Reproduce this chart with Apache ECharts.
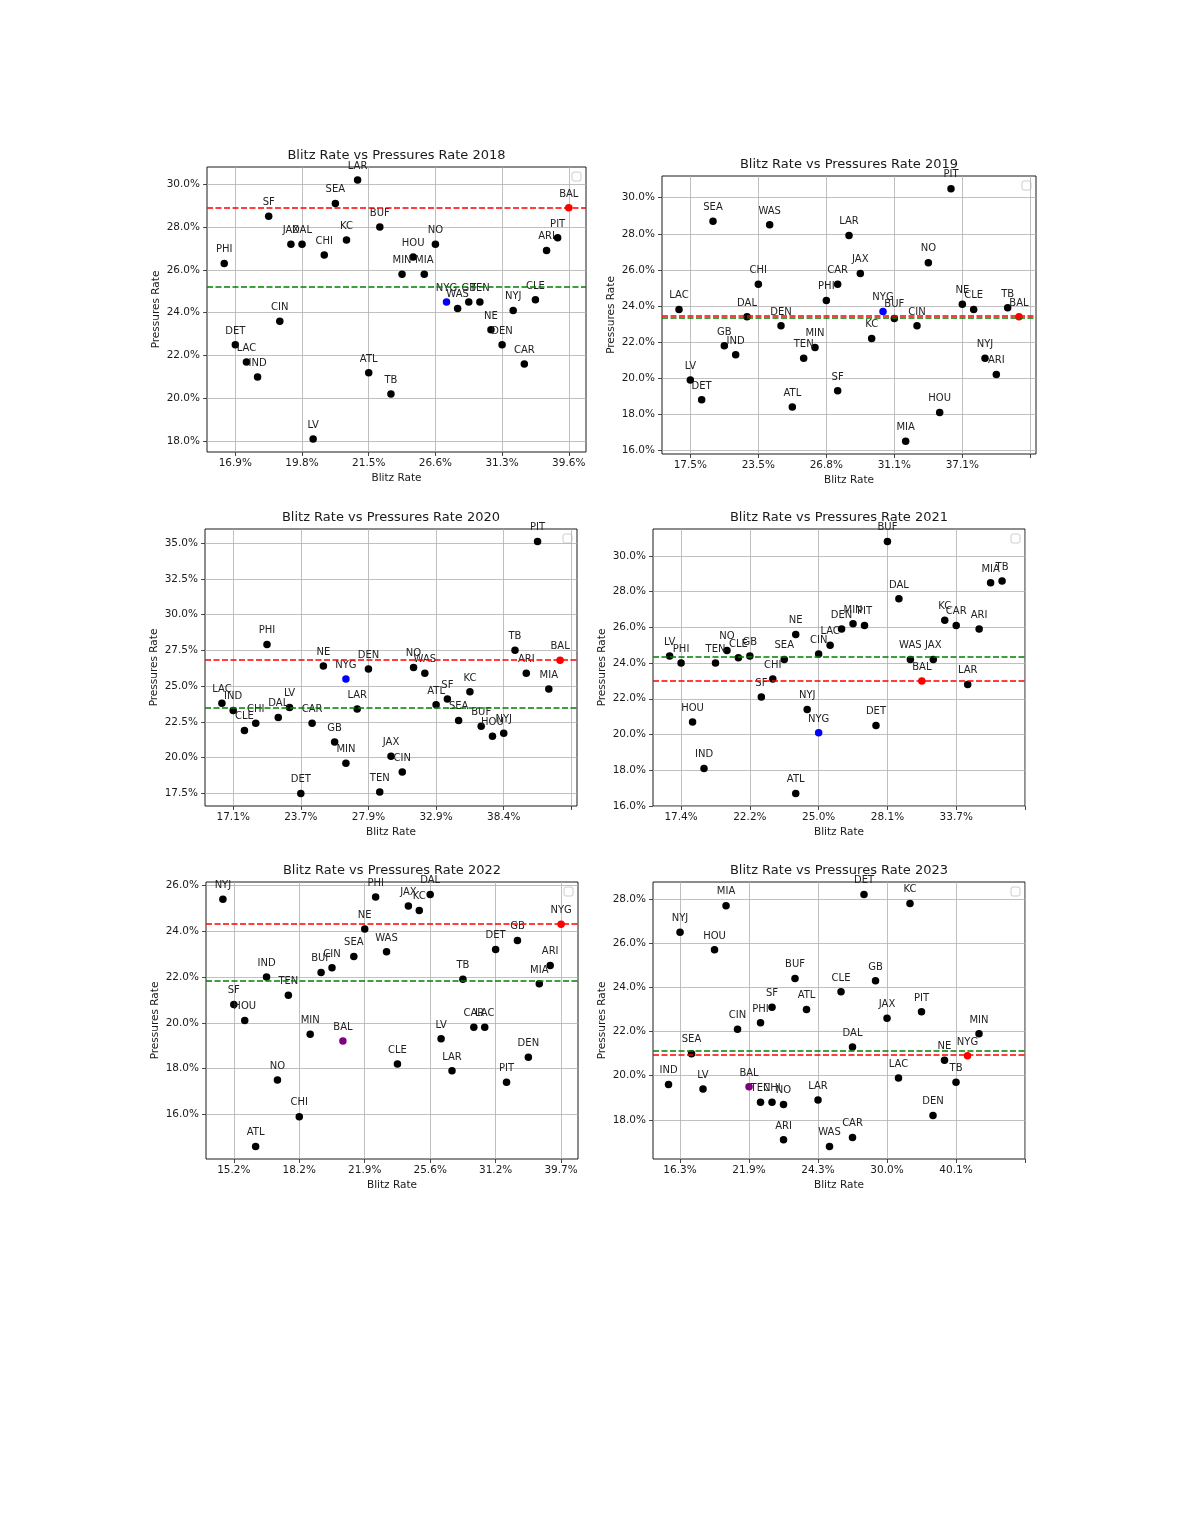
<!DOCTYPE html>
<html><head><meta charset="utf-8">
<script src="https://cdn.jsdelivr.net/npm/echarts@6/dist/echarts.min.js"></script>
<style>html,body{margin:0;padding:0;background:#fff}#chart{width:1190px;height:1540px}</style>
</head><body><div id="chart"></div>
<script>
const years = [2018, 2019, 2020, 2021, 2022, 2023];

// x position = rank of team's blitz rate (teams sharing a rate share a position)
const teams2018 = ['PHI','DET','LAC','IND','SF','CIN','JAX','DAL','LV','CHI','SEA','KC','LAR','ATL','BUF','TB','MIN','HOU','MIA','NO','NYG','WAS','GB','TEN','NE','DEN','NYJ','CAR','CLE','ARI','PIT','BAL'];
const blitzRank2018 = [0,1,2,3,4,5,6,7,8,9,10,11,12,13,14,15,16,17,18,19,20,21,22,23,24,25,26,27,28,29,30,31];
const pressure2018 = [26.3,22.5,21.7,21.0,28.5,23.6,27.2,27.2,18.1,26.7,29.1,27.4,30.2,21.2,28.0,20.2,25.8,26.6,25.8,27.2,24.5,24.2,24.5,24.5,23.2,22.5,24.1,21.6,24.6,26.9,27.5,28.9];
const xTickLabels2018 = ['16.9%','19.8%','21.5%','26.6%','31.3%','39.6%'];
const yTicks2018 = [18,20,22,24,26,28,30];

const teams2019 = ['LAC','LV','DET','SEA','GB','IND','DAL','CHI','WAS','DEN','ATL','TEN','MIN','PHI','CAR','SF','LAR','JAX','KC','NYG','BUF','MIA','CIN','NO','HOU','PIT','NE','CLE','NYJ','ARI','TB','BAL'];
const blitzRank2019 = [0,1,2,3,4,5,6,7,8,9,10,11,12,13,14,14,15,16,17,18,19,20,21,22,23,24,25,26,27,28,29,30];
const pressure2019 = [23.8,19.9,18.8,28.7,21.8,21.3,23.4,25.2,28.5,22.9,18.4,21.1,21.7,24.3,25.2,19.3,27.9,25.8,22.2,23.7,23.3,16.5,22.9,26.4,18.1,30.5,24.1,23.8,21.1,20.2,23.9,23.4];
const xTickLabels2019 = ['17.5%','23.5%','26.8%','31.1%','37.1%',''];
const yTicks2019 = [16,18,20,22,24,26,28,30];

const teams2020 = ['LAC','IND','CLE','CHI','PHI','DAL','LV','DET','CAR','NE','GB','NYG','MIN','LAR','DEN','TEN','JAX','CIN','NO','WAS','ATL','SF','SEA','KC','BUF','HOU','NYJ','TB','ARI','PIT','MIA','BAL'];
const blitzRank2020 = [0,1,2,3,4,5,6,7,8,9,10,11,11,12,13,14,15,16,17,18,19,20,21,22,23,24,25,26,27,28,29,30];
const pressure2020 = [23.8,23.3,21.9,22.4,27.9,22.8,23.5,17.5,22.4,26.4,21.1,25.5,19.6,23.4,26.2,17.6,20.1,19.0,26.3,25.9,23.7,24.1,22.6,24.6,22.2,21.5,21.7,27.5,25.9,35.1,24.8,26.8];
const xTickLabels2020 = ['17.1%','23.7%','27.9%','32.9%','38.4%',''];
const yTicks2020 = [17.5,20,22.5,25,27.5,30,32.5,35];

const teams2021 = ['LV','PHI','HOU','IND','TEN','NO','CLE','GB','SF','CHI','SEA','NE','ATL','NYJ','CIN','NYG','LAC','DEN','MIN','PIT','DET','BUF','DAL','WAS','BAL','JAX','KC','CAR','LAR','ARI','MIA','TB'];
const blitzRank2021 = [0,1,2,3,4,5,6,7,8,9,10,11,11,12,13,13,14,15,16,17,18,19,20,21,22,23,24,25,26,27,28,29];
const pressure2021 = [24.4,24.0,20.7,18.1,24.0,24.7,24.3,24.4,22.1,23.1,24.2,25.6,16.7,21.4,24.5,20.1,25.0,25.9,26.2,26.1,20.5,30.8,27.6,24.2,23.0,24.2,26.4,26.1,22.8,25.9,28.5,28.6];
const xTickLabels2021 = ['17.4%','22.2%','25.0%','28.1%','33.7%',''];
const yTicks2021 = [16,18,20,22,24,26,28,30];

const teams2022 = ['NYJ','SF','HOU','ATL','IND','NO','TEN','CHI','MIN','BUF','CIN','BAL','SEA','NE','PHI','WAS','CLE','JAX','KC','DAL','LV','LAR','TB','CAR','LAC','DET','PIT','GB','DEN','MIA','ARI','NYG'];
const blitzRank2022 = [0,1,2,3,4,5,6,7,8,9,10,11,12,13,14,15,16,17,18,19,20,21,22,23,24,25,26,27,28,29,30,31];
const pressure2022 = [25.4,20.8,20.1,14.6,22.0,17.5,21.2,15.9,19.5,22.2,22.4,19.2,22.9,24.1,25.5,23.1,18.2,25.1,24.9,25.6,19.3,17.9,21.9,19.8,19.8,23.2,17.4,23.6,18.5,21.7,22.5,24.3];
const xTickLabels2022 = ['15.2%','18.2%','21.9%','25.6%','31.2%','39.7%'];
const yTicks2022 = [16,18,20,22,24,26];

const teams2023 = ['IND','NYJ','SEA','LV','HOU','MIA','CIN','BAL','TEN','PHI','SF','CHI','NO','ARI','BUF','ATL','LAR','WAS','CLE','DAL','CAR','DET','GB','JAX','LAC','KC','PIT','DEN','NE','TB','NYG','MIN'];
const blitzRank2023 = [0,1,2,3,4,5,6,7,8,8,9,9,10,10,11,12,13,14,15,16,16,17,18,19,20,21,22,23,24,25,26,27];
const pressure2023 = [19.6,26.5,21.0,19.4,25.7,27.7,22.1,19.5,18.8,22.4,23.1,18.8,18.7,17.1,24.4,23.0,18.9,16.8,23.8,21.3,17.2,28.2,24.3,22.6,19.9,27.8,22.9,18.2,20.7,19.7,20.9,21.9];
const xTickLabels2023 = ['16.3%','21.9%','24.3%','30.0%','40.1%',''];
const yTicks2023 = [18,20,22,24,26,28];

const xTickPositions = [1, 7, 13, 19, 25, 31];
const redLine = [28.9, 23.44, 26.83, 23.02, 24.34, 20.93];
const greenLine = [25.19, 23.32, 23.47, 24.34, 21.82, 21.15];
const highlight = [
  {NYG: '#0000ff', BAL: '#ff0000'},
  {NYG: '#0000ff', BAL: '#ff0000'},
  {NYG: '#0000ff', BAL: '#ff0000'},
  {NYG: '#0000ff', BAL: '#ff0000'},
  {BAL: '#800080', NYG: '#ff0000'},
  {BAL: '#800080', NYG: '#ff0000'}
];

const sets = [
  {teams: teams2018, rank: blitzRank2018, pressure: pressure2018, xLabels: xTickLabels2018, yTicks: yTicks2018},
  {teams: teams2019, rank: blitzRank2019, pressure: pressure2019, xLabels: xTickLabels2019, yTicks: yTicks2019},
  {teams: teams2020, rank: blitzRank2020, pressure: pressure2020, xLabels: xTickLabels2020, yTicks: yTicks2020},
  {teams: teams2021, rank: blitzRank2021, pressure: pressure2021, xLabels: xTickLabels2021, yTicks: yTicks2021},
  {teams: teams2022, rank: blitzRank2022, pressure: pressure2022, xLabels: xTickLabels2022, yTicks: yTicks2022},
  {teams: teams2023, rank: blitzRank2023, pressure: pressure2023, xLabels: xTickLabels2023, yTicks: yTicks2023}
];

// layout
const boxes = [
  {left: 207, top: 167, width: 379, height: 285},
  {left: 662, top: 176, width: 374, height: 278},
  {left: 205, top: 529, width: 372, height: 277},
  {left: 653, top: 529, width: 372, height: 277},
  {left: 206, top: 882, width: 372, height: 277},
  {left: 653, top: 882, width: 372, height: 277}
];
const FONT = 'DejaVu Sans';
const TXT = '#1a1a1a';

const option = {animation: false, backgroundColor: '#fff', grid: [], xAxis: [], yAxis: [], series: [], graphic: []};

sets.forEach((d, i) => {
  const b = boxes[i];
  option.grid.push({left: b.left, top: b.top, width: b.width, height: b.height, show: true,
    borderColor: '#1a1a1a', borderWidth: 1, backgroundColor: '#fff'});
  const maxRank = Math.max(...d.rank);
  const pMin = Math.min(...d.pressure), pMax = Math.max(...d.pressure), pr = pMax - pMin;
  option.xAxis.push({
    type: 'value', gridIndex: i, min: -0.05 * maxRank, max: Math.max(1.05 * maxRank, 31),
    name: 'Blitz Rate', nameLocation: 'middle', nameGap: 21,
    nameTextStyle: {fontFamily: FONT, fontSize: 10.5, color: TXT},
    axisLine: {show: false, onZero: false},
    axisTick: {show: true, customValues: xTickPositions, length: 4, lineStyle: {color: '#1a1a1a', width: 0.8}},
    axisLabel: {customValues: xTickPositions, margin: 6, fontFamily: FONT, fontSize: 10.5, color: TXT,
      formatter: v => { const k = xTickPositions.indexOf(Math.round(v)); return k >= 0 ? d.xLabels[k] : ''; }},
    splitLine: {show: true, lineStyle: {color: '#b0b0b0', width: 0.8}}
  });
  option.yAxis.push({
    type: 'value', gridIndex: i, min: pMin - 0.05 * pr, max: pMax + 0.05 * pr,
    name: 'Pressures Rate', nameLocation: 'middle', nameGap: 45,
    nameTextStyle: {fontFamily: FONT, fontSize: 10.5, color: TXT},
    axisLine: {show: false, onZero: false},
    axisTick: {show: true, customValues: d.yTicks, length: 4, lineStyle: {color: '#1a1a1a', width: 0.8}},
    axisLabel: {customValues: d.yTicks, margin: 7, fontFamily: FONT, fontSize: 10.5, color: TXT,
      formatter: v => v.toFixed(1) + '%'},
    splitLine: {show: true, lineStyle: {color: '#b0b0b0', width: 0.8}}
  });
  const pts = d.teams.map((t, k) => ({
    name: t, value: [d.rank[k], d.pressure[k]],
    itemStyle: {color: highlight[i][t] || '#000000', opacity: 1}
  }));
  option.series.push({
    type: 'scatter', xAxisIndex: i, yAxisIndex: i, symbolSize: 7.5, data: pts,
    itemStyle: {opacity: 1},
    label: {show: true, position: 'top', distance: 5, formatter: '{b}', fontFamily: FONT, fontSize: 10, color: '#222222'},
    markLine: {
      silent: true, symbol: 'none', label: {show: false},
      data: [
        {yAxis: greenLine[i], lineStyle: {color: '#008000', type: [6, 2.5], width: 1.5}},
        {yAxis: redLine[i], lineStyle: {color: '#ff0000', type: [6, 2.5], width: 1.5}}
      ]
    }
  });
  option.graphic.push({
    type: 'text', x: b.left + b.width / 2, y: b.top - 11,
    style: {text: 'Blitz Rate vs Pressures Rate ' + years[i], align: 'center', verticalAlign: 'middle',
      fontFamily: FONT, fontSize: 13, fill: TXT}
  });
  option.graphic.push({
    type: 'rect', shape: {x: b.left + b.width - 14, y: b.top + 5, width: 9, height: 9, r: 2},
    style: {fill: '#ffffff', stroke: '#cccccc', lineWidth: 1}
  });
});

const chart = echarts.init(document.getElementById('chart'), null, {renderer: 'canvas'});
chart.setOption(option);
</script>
</body></html>
